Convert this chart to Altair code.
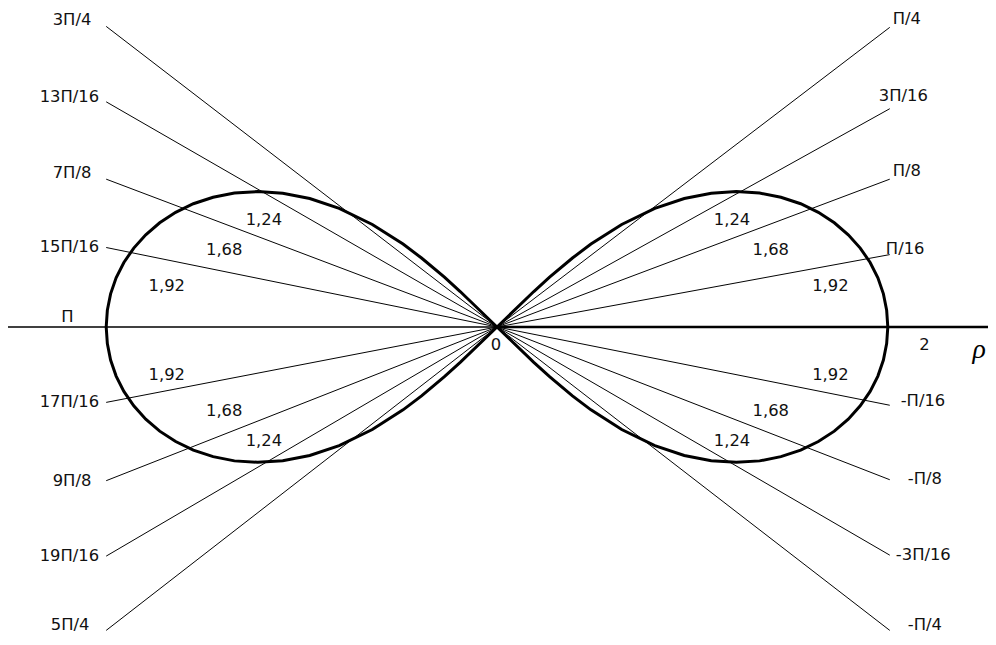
import altair as alt
import numpy as np
import pandas as pd

# ---- data ----
# lemniscate half-lobe: polar angle (degrees) and radius rho
phi_deg = [0, 2.5, 5, 7.5, 10, 12.5, 15, 17.5, 20, 22.5, 25, 27.5, 30,
           32.5, 35, 37.5, 40, 42, 43, 44, 44.5, 45]
rho_vals = [2.000, 1.996, 1.985, 1.966, 1.939, 1.904, 1.861, 1.810, 1.750,
            1.682, 1.603, 1.515, 1.414, 1.300, 1.170, 1.018, 0.833, 0.647,
            0.528, 0.374, 0.264, 0.0]

# rays (end points) and their labels
right_labels = ["П/4", "3П/16", "П/8", "П/16", "-П/16", "-П/8", "-3П/16", "-П/4"]
right_end_x = 2.01
right_end_y = [1.565, 1.140, 0.772, 0.378, -0.409, -0.798, -1.192, -1.585]
right_lab_x = [2.025, 1.954, 2.025, 1.990, 2.066, 2.102, 2.041, 2.102]
right_lab_y = [1.606, 1.207, 0.813, 0.409, -0.389, -0.793, -1.192, -1.558]

left_labels = ["3П/4", "13П/16", "7П/8", "15П/16", "17П/16", "9П/8", "19П/16", "5П/4"]
left_end_x = -2.0
left_end_y = [1.570, 1.176, 0.772, 0.415, -0.394, -0.803, -1.197, -1.585]
left_lab_x = [-2.076, -2.036, -2.076, -2.036, -2.036, -2.076, -2.036, -2.086]
left_lab_y = [1.601, 1.202, 0.803, 0.415, -0.394, -0.803, -1.197, -1.558]

# radius values written inside the lobes
value_text = ["1,24", "1,68", "1,92"]
value_x_right = [1.203, 1.401, 1.706]
value_x_left = [-1.193, -1.396, -1.690]
value_y_upper = [0.557, 0.404, 0.212]
value_y_lower = [-0.596, -0.440, -0.249]

# other texts
other_text = ["П", "0", "2"]
other_x = [-2.198, -0.005, 2.188]
other_y = [0.052, -0.093, -0.093]
rho_symbol = "ρ"
rho_sym_x = [2.467]
rho_sym_y = [-0.119]

XMIN, XMAX = -2.5025, 2.5127
YMIN, YMAX = -1.6062, 1.6528

# ---- build tables ----
half = list(zip(phi_deg, rho_vals))
lobe = [(-p, r) for p, r in reversed(half)] + [(p, r) for p, r in half[1:]]
pts = []
for p, r in lobe:  # right lobe
    pts.append((np.radians(p), r))
for p, r in lobe:  # left lobe, continuing through the origin
    pts.append((np.radians(180 - p), r))
curve = pd.DataFrame({
    "x": [r * np.cos(a) for a, r in pts],
    "y": [r * np.sin(a) for a, r in pts],
    "i": list(range(len(pts))),
})

rays = pd.DataFrame({
    "x": [0.0] * 16,
    "y": [0.0] * 16,
    "x2": [right_end_x] * 8 + [left_end_x] * 8,
    "y2": right_end_y + left_end_y,
})

axis_df = pd.DataFrame({"x": [XMIN, 0.0], "x2": [0.0, XMAX], "y": [0.0, 0.0],
                        "w": [1.5, 2.5]})

rlab = pd.DataFrame({"t": right_labels, "x": right_lab_x, "y": right_lab_y})
llab = pd.DataFrame({"t": left_labels, "x": left_lab_x, "y": left_lab_y})
vals = pd.DataFrame({
    "t": value_text * 4,
    "x": value_x_right * 2 + value_x_left * 2,
    "y": value_y_upper + value_y_lower + value_y_upper + value_y_lower,
})
oth = pd.DataFrame({"t": other_text, "x": other_x, "y": other_y})
rsym = pd.DataFrame({"t": [rho_symbol], "x": rho_sym_x, "y": rho_sym_y})

xs = alt.Scale(domain=[XMIN, XMAX], nice=False, zero=False)
ys = alt.Scale(domain=[YMIN, YMAX], nice=False, zero=False)
X = lambda f="x": alt.X(f"{f}:Q", scale=xs, axis=None)
Y = lambda f="y": alt.Y(f"{f}:Q", scale=ys, axis=None)

FONT = "DejaVu Sans"
FS = 16.5
TXT = "#111111"

ray_layer = alt.Chart(rays).mark_rule(color="black", strokeWidth=1).encode(
    x=X(), y=Y(), x2="x2:Q", y2="y2:Q")

axis_layer = alt.Chart(axis_df).mark_rule(color="black").encode(
    x=X(), x2="x2:Q", y=Y(),
    strokeWidth=alt.StrokeWidth("w:Q", scale=None, legend=None))

curve_layer = alt.Chart(curve).mark_line(color="black", strokeWidth=3).encode(
    x=X(), y=Y(), order="i:Q")

rlab_layer = alt.Chart(rlab).mark_text(align="left", baseline="middle", font=FONT,
                                       fontSize=FS, color=TXT).encode(
    x=X(), y=Y(), text="t:N")
llab_layer = alt.Chart(llab).mark_text(align="right", baseline="middle", font=FONT,
                                       fontSize=FS, color=TXT).encode(
    x=X(), y=Y(), text="t:N")
val_layer = alt.Chart(vals).mark_text(align="center", baseline="middle", font=FONT,
                                      fontSize=FS, color=TXT).encode(
    x=X(), y=Y(), text="t:N")
oth_layer = alt.Chart(oth).mark_text(align="center", baseline="middle", font=FONT,
                                     fontSize=FS, color=TXT).encode(
    x=X(), y=Y(), text="t:N")
rsym_layer = alt.Chart(rsym).mark_text(align="center", baseline="middle",
                                       font="Liberation Serif", fontStyle="italic",
                                       fontSize=28, color="black").encode(
    x=X(), y=Y(), text="t:N")

chart = alt.layer(
    ray_layer, axis_layer, curve_layer, rlab_layer, llab_layer, val_layer,
    oth_layer, rsym_layer
).properties(
    width=988, height=629, padding=0,
    autosize=alt.AutoSizeParams(type="none"),
    background="white",
).configure_view(stroke=None)

chart.save("out.html", embed_options={"renderer": "svg", "actions": False})
